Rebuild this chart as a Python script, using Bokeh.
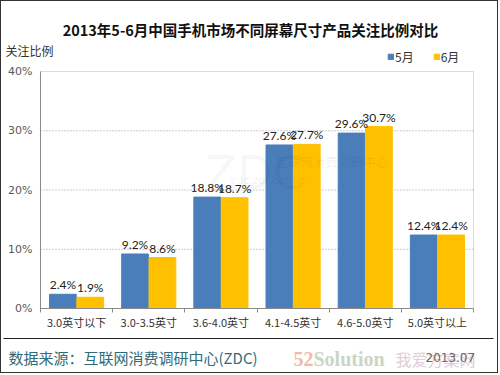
from bokeh.plotting import figure
from bokeh.models import (ColumnDataSource, FixedTicker, Label, LabelSet, Legend,
                          LegendItem, Range1d, PrintfTickFormatter, BoxAnnotation)
from bokeh.core.properties import value
from bokeh.embed import file_html
from bokeh.resources import INLINE
from bokeh.transform import dodge

# ---------------- data ----------------
categories = ["3.0英寸以下", "3.0-3.5英寸", "3.6-4.0英寸", "4.1-4.5英寸", "4.6-5.0英寸", "5.0英寸以上"]
may = [2.4, 9.2, 18.8, 27.6, 29.6, 12.4]
june = [1.9, 8.6, 18.7, 27.7, 30.7, 12.4]
series_names = ["5月", "6月"]
y_ticks = [0, 10, 20, 30, 40]
grid_ticks = [10, 20, 30]

title_text = "2013年5-6月中国手机市场不同屏幕尺寸产品关注比例对比"
y_title = "关注比例"
source_text = "数据来源：互联网消费调研中心(ZDC)"
date_text = "2013.07"

CJK = "Noto Sans CJK SC"
BLUE = "#4A7EBB"
YELLOW = "#FFC000"
AXIS_GRAY = "#8a8a8a"

# ---------------- layout (canvas pixels) ----------------
W, H = 498, 373
PLOT_L, PLOT_R, PLOT_T, PLOT_B = 39, 472, 70, 307   # plot box inside the canvas
n = len(categories)
ymin, ymax = y_ticks[0], y_ticks[-1]
px_x = (PLOT_R - PLOT_L) / n
px_y = (PLOT_B - PLOT_T) / (ymax - ymin)
x_range = Range1d(-PLOT_L / px_x, n + (W - PLOT_R) / px_x)
y_range = Range1d(ymin - (H - PLOT_B) / px_y, ymax + PLOT_T / px_y)

p = figure(width=W, height=H, output_backend="svg", toolbar_location=None,
           x_range=x_range, y_range=y_range, min_border=0,
           styles={"border": "1px solid #333"})
p.outline_line_color = None
p.xgrid.visible = False
p.ygrid.visible = False

centers = [i + 0.5 for i in range(n)]
bounds = list(range(n + 1))

src = ColumnDataSource(dict(
    x=centers, may=may, june=june,
    may_lbl=[f"{v}%" for v in may],
    june_lbl=[f"{v}%" for v in june],
))

# dotted gridlines across the plot box
p.segment(x0=[0] * len(grid_ticks), x1=[n] * len(grid_ticks), y0=grid_ticks, y1=grid_ticks,
          line_color="#9a9a9a", line_dash="1 2", line_width=1)

# bars
r1 = p.vbar(x=dodge("x", -0.19, range=p.x_range), top="may", width=0.37, source=src,
            fill_color=BLUE, line_color=BLUE)
r2 = p.vbar(x=dodge("x", 0.19, range=p.x_range), top="june", width=0.37, source=src,
            fill_color=YELLOW, line_color=YELLOW)

# plot box outline
p.add_layout(BoxAnnotation(left=0, right=n, bottom=ymin, top=ymax,
                           fill_alpha=0, line_color=AXIS_GRAY, line_width=1))

# axes fixed at the plot box edges
p.xaxis.fixed_location = ymin
p.xaxis.bounds = (0, n)
p.xaxis.ticker = FixedTicker(ticks=centers, minor_ticks=bounds)
p.xaxis.major_label_overrides = {c: nm for c, nm in zip(centers, categories)}
p.xaxis.major_tick_out = 0
p.xaxis.major_tick_in = 0
p.xaxis.minor_tick_out = 4
p.xaxis.minor_tick_in = 0
p.xaxis.minor_tick_line_color = AXIS_GRAY
p.xaxis.axis_line_color = AXIS_GRAY
p.xaxis.major_label_text_font = CJK
p.xaxis.major_label_text_font_size = "11px"
p.xaxis.major_label_text_color = "#333333"
p.xaxis.major_label_standoff = 1

p.yaxis.fixed_location = 0
p.yaxis.bounds = (ymin, ymax)
p.yaxis.ticker = FixedTicker(ticks=y_ticks)
p.yaxis.formatter = PrintfTickFormatter(format="%d%%")
p.yaxis.major_tick_out = 0
p.yaxis.major_tick_in = 0
p.yaxis.minor_tick_out = 0
p.yaxis.minor_tick_in = 0
p.yaxis.axis_line_color = AXIS_GRAY
p.yaxis.major_label_text_font = "DejaVu Sans"
p.yaxis.major_label_text_font_size = "11px"
p.yaxis.major_label_text_color = "#595959"
p.yaxis.major_label_standoff = 8

# value labels
for col, lbl, off in (("may", "may_lbl", -0.19), ("june", "june_lbl", 0.19)):
    p.add_layout(LabelSet(x=dodge("x", off, range=p.x_range), y=col, text=lbl, source=src,
                          text_align="center", text_baseline="bottom", y_offset=2,
                          text_font=value("Lato"), text_font_size="12px",
                          text_color="#222222"))

# legend
legend = Legend(items=[LegendItem(label=series_names[0], renderers=[r1]),
                       LegendItem(label=series_names[1], renderers=[r2])],
                orientation="horizontal", location=(386, 309),
                glyph_width=7, glyph_height=7, label_standoff=1, spacing=19,
                padding=0, margin=0, label_height=12, label_width=10,
                label_text_font=CJK, label_text_font_size="12px", label_text_color="#333333",
                background_fill_alpha=0, border_line_alpha=0)
p.add_layout(legend, "center")


def add_text(x, y, text, font, size, color, align="left", style="normal", alpha=1.0):
    p.add_layout(Label(x=x, y=y, x_units="screen", y_units="screen", text=text,
                       text_align=align, text_baseline="middle", text_font=font,
                       text_font_size=size, text_font_style=style, text_color=color,
                       text_alpha=alpha))


# title and y title
add_text(249, 345, title_text, CJK, "14.5px", "#111111", align="center", style="bold")
add_text(4, 324.5, y_title, CJK, "12px", "#333333")

# faint watermark in the plot
add_text(204, 202, "ZDC", "DejaVu Sans", "46px", "#000000", alpha=0.05)
add_text(274, 213, "互联网消费调研中心", CJK, "12.5px", "#000000", alpha=0.07)
add_text(229, 194, "zdc.zol.com.cn", "DejaVu Sans", "11px", "#000000", alpha=0.07)

# footer separator and texts
p.add_layout(BoxAnnotation(left=2, right=492, bottom=35.5, top=36.5,
                           left_units="screen", right_units="screen",
                           top_units="screen", bottom_units="screen",
                           fill_color="#222222", fill_alpha=1, line_alpha=0))
add_text(7, 17.5, source_text, CJK, "15px", "#2F6C7A")
add_text(292, 16, "52", "Liberation Serif", "20px", "#F2B8A8", style="bold")
add_text(312, 16, "Solution", "Liberation Serif", "20px", "#C9D6C4", style="bold")
add_text(394, 16, "我爱方案网", CJK, "16px", "#E2CCD6")
add_text(424, 17, date_text, "DejaVu Sans", "12px", "#666666")

open("out.html", "w").write(file_html(p, INLINE))
